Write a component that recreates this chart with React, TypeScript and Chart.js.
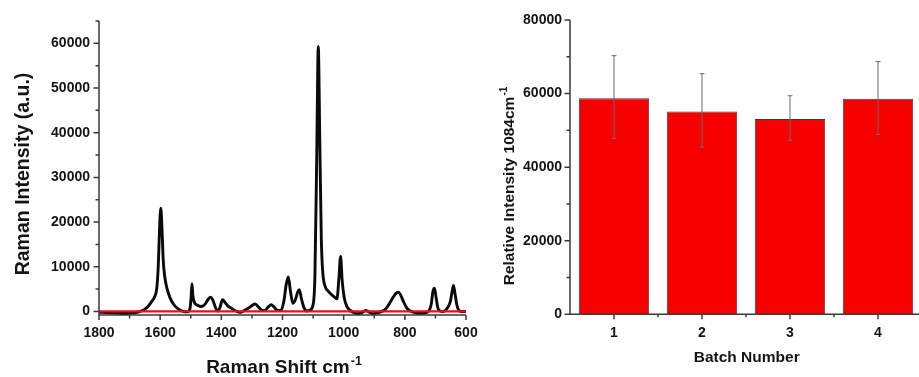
import React, { useEffect, useRef } from 'react';
import { Chart, registerables } from 'chart.js';

Chart.register(...registerables);

// ---------- Left chart: Raman spectrum ----------
const ramanShift = [
  1800, 1775, 1750, 1725, 1700, 1680, 1665, 1652, 1640, 1628, 1618, 1611, 1606, 1602, 1598, 1594, 1590, 1585,
  1578, 1568, 1555, 1540, 1525, 1512, 1503, 1499, 1496, 1493, 1488, 1478, 1466, 1455, 1445, 1436, 1428, 1420,
  1413, 1405, 1396, 1388, 1378, 1365, 1350, 1338, 1325, 1310, 1298, 1290, 1280, 1268, 1258, 1248, 1237, 1228,
  1215, 1205, 1195, 1188, 1181, 1174, 1166, 1158, 1150, 1145, 1138, 1130, 1120, 1110, 1100, 1094, 1088, 1083,
  1078, 1073, 1068, 1060, 1050, 1040, 1030, 1022, 1016, 1010, 1005, 998, 990, 980, 968, 955, 940, 928, 918,
  905, 890, 875, 862, 850, 838, 828, 821, 814, 805, 795, 785, 770, 750, 732, 722, 714, 708, 703, 698, 692,
  685, 675, 662, 652, 646, 641, 636, 630, 624, 615, 600,
];
const ramanIntensity = [
  -200, -250, -350, -450, -400, -250, 0, 400, 1100, 2200, 3300, 5200, 10500, 18500, 23100, 18500, 11500, 7800,
  5200, 3100, 1500, 500, 0, -100, 500, 3000, 6200, 3500, 2000, 1400, 1100, 1500, 2500, 3200, 2600, 1000,
  100, 800, 2600, 2000, 1200, 600, 0, -200, 200, 800, 1400, 1700, 1100, 300, 200, 900, 1500, 1000,
  200, 200, 2500, 6000, 7700, 4500, 1800, 2600, 4400, 4850, 2800, 900, 100, 300, 1500, 8000, 35000, 59300,
  38000, 16000, 8500, 5500, 4500, 3800, 3200, 2800, 7000, 12300, 7000, 3000, 1200, 300, -200, -500, -300, 200, -100,
  -500, -300, 0, 600, 1800, 3200, 4100, 4300, 3700, 2300, 900, 200, -200, -400, -300, 100, 1500, 4500, 5200, 3200, 800,
  100, 0, 700, 2000, 4200, 5800, 4000, 1500, 300, 0, 0,
];
const baselineShift = [1800, 600];
const baselineIntensity = [0, 0];

const shiftTicks = [1800, 1600, 1400, 1200, 1000, 800, 600];
const shiftMinorTicks = [1700, 1500, 1300, 1100, 900, 700];
const intensityTicks = [0, 10000, 20000, 30000, 40000, 50000, 60000];
const intensityMinorTicks = [5000, 15000, 25000, 35000, 45000, 55000, 65000];

// ---------- Right chart: batches ----------
const batches = ['1', '2', '3', '4'];
const batchMeans = [58700, 55100, 53100, 58600];
const batchErrHigh = [70300, 65400, 59400, 68700];
const batchErrLow = [47800, 45500, 47300, 48900];
const relTicks = [0, 20000, 40000, 60000, 80000];
const relMinorTicks = [10000, 30000, 50000, 70000];

const FONT = '"Liberation Sans", Arial, Helvetica, sans-serif';
const AXIS = '#3a3a3a';
const TEXT = '#141414';

function drawTicks(ctx: CanvasRenderingContext2D, scale: any, values: number[], len: number, horizontal: boolean, pixelFn?: (v: number) => number) {
  ctx.save();
  ctx.strokeStyle = AXIS;
  ctx.lineWidth = 1.5;
  ctx.beginPath();
  for (const v of values) {
    const p = pixelFn ? pixelFn(v) : scale.getPixelForValue(v);
    if (horizontal) {
      ctx.moveTo(p, scale.top);
      ctx.lineTo(p, scale.top + len);
    } else {
      ctx.moveTo(scale.right, p);
      ctx.lineTo(scale.right - len, p);
    }
  }
  ctx.stroke();
  ctx.restore();
}

function drawAxes(ctx: CanvasRenderingContext2D, area: any) {
  ctx.save();
  ctx.strokeStyle = AXIS;
  ctx.lineWidth = 1.5;
  ctx.beginPath();
  ctx.moveTo(area.left, area.top);
  ctx.lineTo(area.left, area.bottom);
  ctx.lineTo(area.right, area.bottom);
  ctx.stroke();
  ctx.restore();
}

function drawTitle(
  ctx: CanvasRenderingContext2D,
  cx: number,
  cy: number,
  rotate: boolean,
  main: string,
  sup: string,
  size: number,
  supSize: number,
  rise: number
) {
  ctx.save();
  ctx.fillStyle = TEXT;
  ctx.textBaseline = 'alphabetic';
  ctx.textAlign = 'left';
  const mainFont = `bold ${size}px ${FONT}`;
  const supFont = `bold ${supSize}px ${FONT}`;
  ctx.font = mainFont;
  const mw = ctx.measureText(main).width;
  ctx.font = supFont;
  const sw = sup ? ctx.measureText(sup).width + 1 : 0;
  const total = mw + sw;
  ctx.translate(cx, cy);
  if (rotate) ctx.rotate(-Math.PI / 2);
  const x0 = -total / 2;
  ctx.font = mainFont;
  ctx.fillText(main, x0, 0);
  if (sup) {
    ctx.font = supFont;
    ctx.fillText(sup, x0 + mw + 1, -rise);
  }
  ctx.restore();
}

const leftDecor = {
  id: 'leftDecor',
  afterDraw(chart: any) {
    const { ctx, chartArea, scales } = chart;
    drawAxes(ctx, chartArea);
    drawTicks(ctx, scales.x, shiftTicks, 5, true);
    drawTicks(ctx, scales.x, shiftMinorTicks, 3.5, true);
    drawTicks(ctx, scales.y, intensityTicks, 5.5, false);
    drawTicks(ctx, scales.y, intensityMinorTicks, 3.5, false);
    drawTitle(ctx, 29, 174, true, 'Raman Intensity (a.u.)', '', 19.5, 12, 0);
    drawTitle(ctx, 284, 373.3, false, 'Raman Shift cm', '-1', 19, 12.5, 8.5);
  },
};

const rightDecor = {
  id: 'rightDecor',
  afterDatasetsDraw(chart: any) {
    const { ctx, scales } = chart;
    const x = scales.x;
    const y = scales.y;
    ctx.save();
    ctx.strokeStyle = '#6a6a6a';
    ctx.lineWidth = 1;
    batches.forEach((_, i) => {
      const px = x.getPixelForValue(i);
      const yh = y.getPixelForValue(batchErrHigh[i]);
      const yl = y.getPixelForValue(batchErrLow[i]);
      ctx.beginPath();
      ctx.moveTo(px, yh);
      ctx.lineTo(px, yl);
      ctx.moveTo(px - 2.5, yh);
      ctx.lineTo(px + 2.5, yh);
      ctx.moveTo(px - 2.5, yl);
      ctx.lineTo(px + 2.5, yl);
      ctx.stroke();
    });
    ctx.restore();
  },
  afterDraw(chart: any) {
    const { ctx, chartArea, scales } = chart;
    drawAxes(ctx, chartArea);
    const x = scales.x;
    drawTicks(ctx, x, [0, 1, 2, 3], 5, true);
    drawTicks(ctx, x, [0, 1, 2], 3, true, (i: number) => (x.getPixelForValue(i) + x.getPixelForValue(i + 1)) / 2);
    drawTicks(ctx, scales.y, relTicks, 5.5, false);
    drawTicks(ctx, scales.y, relMinorTicks, 3.5, false);
    drawTitle(ctx, 33.5, 186, true, 'Relative Intensity 1084cm', '-1', 15.5, 10, 7);
    drawTitle(ctx, 266.7, 361.7, false, 'Batch Number', '', 15.5, 10, 0);
  },
};

const tickFont = { family: FONT, size: 14, weight: 'bold' as const };

export default function App() {
  const leftRef = useRef<HTMLCanvasElement>(null);
  const rightRef = useRef<HTMLCanvasElement>(null);

  useEffect(() => {
    const left = new Chart(leftRef.current!, {
      type: 'line',
      data: {
        datasets: [
          {
            data: baselineShift.map((x, i) => ({ x, y: baselineIntensity[i] })),
            borderColor: '#e8101c',
            borderWidth: 2.2,
            pointRadius: 0,
          },
          {
            data: ramanShift.map((x, i) => ({ x, y: ramanIntensity[i] })),
            borderColor: '#0a0a0a',
            borderWidth: 2.9,
            pointRadius: 0,
            cubicInterpolationMode: 'monotone',
          },
        ],
      },
      options: {
        animation: false,
        responsive: true,
        maintainAspectRatio: false,
        layout: { padding: { left: 0, right: 14, top: 21, bottom: 0 } },
        plugins: { legend: { display: false }, tooltip: { enabled: false } },
        scales: {
          x: {
            type: 'linear',
            reverse: true,
            min: 600,
            max: 1800,
            grid: { display: false, drawTicks: false },
            border: { display: false },
            afterBuildTicks: (s: any) => {
              s.ticks = shiftTicks.map((v) => ({ value: v }));
            },
            afterFit: (s: any) => {
              s.height = 62;
              s.paddingLeft = 0;
              s.paddingRight = 0;
            },
            ticks: { font: tickFont, color: TEXT, padding: 10, maxRotation: 0, callback: (v: any) => String(v) },
          },
          y: {
            type: 'linear',
            min: -800,
            max: 65000,
            grid: { display: false, drawTicks: false },
            border: { display: false },
            afterBuildTicks: (s: any) => {
              s.ticks = intensityTicks.map((v) => ({ value: v }));
            },
            afterFit: (s: any) => {
              s.width = 99;
            },
            ticks: { font: tickFont, color: TEXT, padding: 9, callback: (v: any) => String(v) },
          },
        },
      },
      plugins: [leftDecor],
    } as any);

    const right = new Chart(rightRef.current!, {
      type: 'bar',
      data: {
        labels: batches,
        datasets: [
          {
            data: batchMeans,
            backgroundColor: '#f70000',
            borderColor: '#3a3a3a',
            borderWidth: 1,
            barPercentage: 0.8,
            categoryPercentage: 1,
          },
        ],
      },
      options: {
        animation: false,
        responsive: true,
        maintainAspectRatio: false,
        layout: { padding: { left: 0, right: 3, top: 20, bottom: 0 } },
        plugins: { legend: { display: false }, tooltip: { enabled: false } },
        scales: {
          x: {
            grid: { display: false, drawTicks: false },
            border: { display: false },
            afterFit: (s: any) => {
              s.height = 62.7;
              s.paddingLeft = 0;
              s.paddingRight = 0;
            },
            ticks: { font: tickFont, color: TEXT, padding: 10, maxRotation: 0 },
          },
          y: {
            type: 'linear',
            min: 0,
            max: 80000,
            grid: { display: false, drawTicks: false },
            border: { display: false },
            afterBuildTicks: (s: any) => {
              s.ticks = relTicks.map((v) => ({ value: v }));
            },
            afterFit: (s: any) => {
              s.width = 90;
            },
            ticks: { font: tickFont, color: TEXT, padding: 8, callback: (v: any) => String(v) },
          },
        },
      },
      plugins: [rightDecor],
    } as any);

    return () => {
      left.destroy();
      right.destroy();
    };
  }, []);

  return (
    <div
      style={{
        position: 'fixed',
        left: 0,
        top: 0,
        width: 919,
        height: 377,
        overflow: 'hidden',
        background: '#ffffff',
      }}
    >
      <div style={{ position: 'absolute', left: 0, top: 0, width: 480, height: 377 }}>
        <canvas ref={leftRef} />
      </div>
      <div style={{ position: 'absolute', left: 480, top: 0, width: 445, height: 377 }}>
        <canvas ref={rightRef} />
      </div>
    </div>
  );
}
